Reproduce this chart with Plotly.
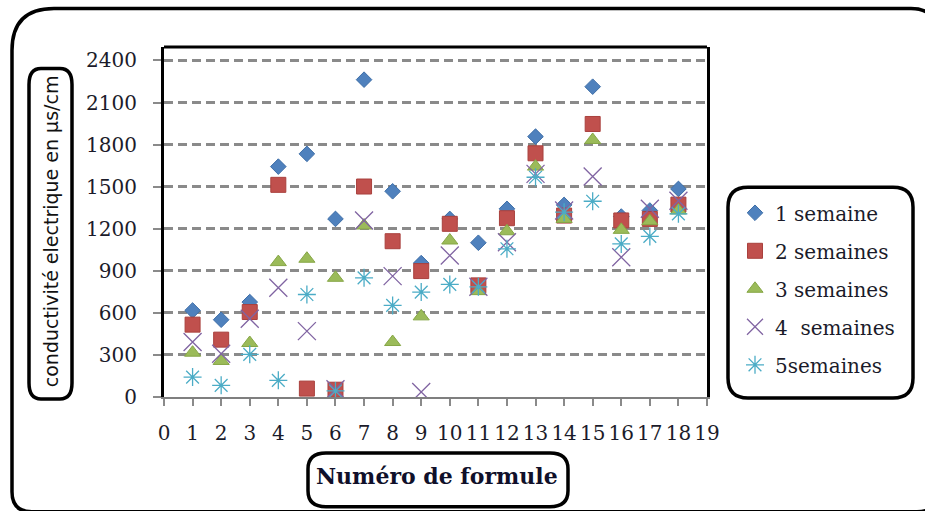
import plotly.graph_objects as go

# Conductivité électrique (µs/cm) par formule, mesurée sur 5 semaines
formules = list(range(1, 19))
semaine_1 = [617, 551, 677, 1643, 1734, 1270, 2263, 1467, 955, 1270, 1100, 1342, 1857, 1370, 2213, 1287, 1330, 1484]
semaines_2 = [516, 409, 606, 1513, 60, 52, 1501, 1111, 898, 1235, 796, 1275, 1738, 1294, 1947, 1259, 1270, 1372]
semaines_3 = [316, 257, 385, 962, 986, 850, 1223, 392, 575, 1116, 755, 1182, 1643, 1270, 1833, 1192, 1254, 1330]
semaines_4 = [392, 309, 558, 779, 470, 55, 1259, 862, 36, 1009, 786, 1104, 1591, 1330, 1572, 997, 1342, 1400]
semaines_5 = [142, 83, 304, 119, 731, 43, 850, 653, 748, 803, 786, 1057, 1567, 1318, 1396, 1092, 1145, 1306]

noms = ["1 semaine", "2 semaines", "3 semaines", "4  semaines", "5semaines"]
x_ticks = list(range(0, 20))
y_ticks = list(range(0, 2401, 300))

W, H = 925, 511
L, R, T, B = 164, 707, 46.5, 397

def px(x):
    return (x - L) / (R - L)

def py(y):
    return (B - y) / (B - T)

def rounded_rect(x0, y0, x1, y1, rx, ry=None):
    """SVG path (paper coords) for a rounded rectangle given in pixels."""
    if ry is None:
        ry = rx
    pts = [
        ("M", [(x0 + rx, y0)]),
        ("L", [(x1 - rx, y0)]),
        ("Q", [(x1, y0), (x1, y0 + ry)]),
        ("L", [(x1, y1 - ry)]),
        ("Q", [(x1, y1), (x1 - rx, y1)]),
        ("L", [(x0 + rx, y1)]),
        ("Q", [(x0, y1), (x0, y1 - ry)]),
        ("L", [(x0, y0 + ry)]),
        ("Q", [(x0, y0), (x0 + rx, y0)]),
    ]
    out = []
    for cmd, ps in pts:
        out.append(cmd + " " + " ".join(f"{px(a):.5f},{py(b):.5f}" for a, b in ps))
    return " ".join(out) + " Z"

def frame_path():
    """Outer frame with a large top-left corner."""
    x0, y0, x1, y1 = 12, 8, 937, 512
    segs = [
        f"M {px(x0 + 42):.5f},{py(y0):.5f}",
        f"L {px(x1 - 26):.5f},{py(y0):.5f}",
        f"Q {px(x1):.5f},{py(y0):.5f} {px(x1):.5f},{py(y0 + 26):.5f}",
        f"L {px(x1):.5f},{py(y1 - 20):.5f}",
        f"Q {px(x1):.5f},{py(y1):.5f} {px(x1 - 20):.5f},{py(y1):.5f}",
        f"L {px(x0 + 20):.5f},{py(y1):.5f}",
        f"Q {px(x0):.5f},{py(y1):.5f} {px(x0):.5f},{py(y1 - 20):.5f}",
        f"L {px(x0):.5f},{py(y0 + 42):.5f}",
        f"Q {px(x0):.5f},{py(y0):.5f} {px(x0 + 42):.5f},{py(y0):.5f}",
    ]
    return " ".join(segs) + " Z"

serif = "DejaVu Serif"
text_col = "#1b1b2a"

series = [
    (semaine_1, dict(symbol="diamond", size=12, color="#4F81BD", line=dict(color="#3f6fa8", width=1))),
    (semaines_2, dict(symbol="square", size=15, color="#C0504D", line=dict(color="#a9403d", width=1))),
    (semaines_3, dict(symbol="triangle-up", size=14, color="#9BBB59", line=dict(color="#86a646", width=1))),
    (semaines_4, dict(symbol="x-thin-open", size=18, color="#8064A2", line=dict(color="#8064A2", width=1.3))),
    (semaines_5, dict(symbol="asterisk-open", size=15, color="#4BACC6", line=dict(color="#4BACC6", width=1.3))),
]

fig = go.Figure()
for i, (vals, mk) in enumerate(series):
    fig.add_trace(go.Scatter(
        x=formules, y=vals, mode="markers", name=noms[i],
        marker=mk, legendgroup=f"g{i}",
    ))

shapes = [
    # outer frame
    dict(type="path", xref="paper", yref="paper", path=frame_path(),
         line=dict(color="black", width=3.5), layer="below"),
    # top edge of the plot area
    dict(type="line", xref="paper", yref="paper", x0=0, x1=1, y0=1, y1=1,
         line=dict(color="black", width=3)),
    # y-title box
    dict(type="path", xref="paper", yref="paper", path=rounded_rect(29, 68, 72, 399, 12, 16),
         line=dict(color="black", width=3.5)),
    # x-title box
    dict(type="path", xref="paper", yref="paper", path=rounded_rect(308, 453, 568, 507, 18, 16),
         line=dict(color="black", width=3.5)),
    # legend box
    dict(type="path", xref="paper", yref="paper", path=rounded_rect(728, 187, 913, 398, 20, 20),
         line=dict(color="black", width=3.5)),
]

annotations = [
    dict(text="conductivité electrique en µs/cm", xref="paper", yref="paper",
         x=px(51), y=py(231), textangle=-90, showarrow=False,
         font=dict(family="DejaVu Sans", size=19, color="#111111"),
         xanchor="center", yanchor="middle"),
    dict(text="<b>Numéro de formule</b>", xref="paper", yref="paper",
         x=px(437), y=py(476), showarrow=False,
         font=dict(family=serif, size=22, color="#10102a"),
         xanchor="center", yanchor="middle"),
]

fig.update_layout(
    width=W, height=H,
    margin=dict(l=L, r=W - R, t=T, b=H - B),
    paper_bgcolor="white", plot_bgcolor="white",
    showlegend=True,
    legend=dict(
        x=px(735), y=py(193), xanchor="left", yanchor="top",
        font=dict(family=serif, size=20, color=text_col),
        bgcolor="rgba(0,0,0,0)", borderwidth=0,
        tracegroupgap=9, itemsizing="trace",
    ),
    shapes=shapes,
    annotations=annotations,
    xaxis=dict(
        range=[0, 19], tickmode="array", tickvals=x_ticks,
        ticktext=[str(v) for v in x_ticks],
        showgrid=False, zeroline=False,
        showline=True, linecolor="#7f7f7f", linewidth=2,
        ticks="outside", ticklen=7, tickcolor="#8a8a8a", tickwidth=1.5,
        ticklabelstandoff=10,
        tickfont=dict(family=serif, size=20, color=text_col),
    ),
    yaxis=dict(
        range=[0, 2496], tickmode="array", tickvals=y_ticks,
        showgrid=True, gridcolor="#8a8a8a", gridwidth=2.5, griddash="9px,5px",
        zeroline=False,
        showline=True, linecolor="black", linewidth=3, mirror=True,
        ticks="outside", ticklen=8, tickcolor="#8a8a8a", tickwidth=1.5,
        ticklabelstandoff=12,
        tickfont=dict(family=serif, size=20, color=text_col),
    ),
)

fig.write_html("out.html")
